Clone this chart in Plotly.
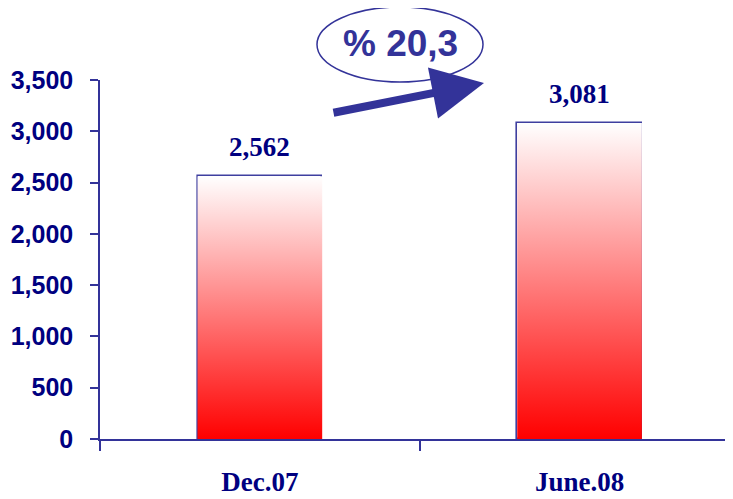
import plotly.graph_objects as go

categories = ["Dec.07", "June.08"]
values = [2562, 3081]
value_labels = ["2,562", "3,081"]
growth_label = "% 20,3"
y_ticks = [0, 500, 1000, 1500, 2000, 2500, 3000, 3500]
y_tick_labels = ["0", "500", "1,000", "1,500", "2,000", "2,500", "3,000", "3,500"]

# page body has an 8px default margin; size the figure so it ends at the window edge
OFF = 8
W, H = 733 - OFF, 499 - OFF
ML, MR, MT, MB = 100 - OFF, 0, 80 - OFF, 60
PW, PH = W - ML - MR, H - MT - MB
BAR_W = 0.39
NAVY = "#000080"
LINE = "#333399"

def px2paper_x(px):
    return (px - OFF - ML) / PW

def px2paper_y(py):
    return (H - MB - (py - OFF)) / PH

fig = go.Figure()
xs = list(range(len(categories)))

for i, v in zip(xs, values):
    fig.add_trace(go.Scatter(
        x=[i - BAR_W / 2, i + BAR_W / 2, i + BAR_W / 2, i - BAR_W / 2, i - BAR_W / 2],
        y=[0, 0, v, v, 0],
        mode="none", fill="toself",
        fillgradient=dict(type="vertical", colorscale=[[0, "#ff0000"], [1, "#ffffff"]]),
        hoverinfo="skip", showlegend=False,
    ))

fig.add_trace(go.Bar(
    x=xs, y=values, width=BAR_W,
    marker=dict(color="rgba(0,0,0,0)", line=dict(color="#3f3f9f", width=1.6)),
    showlegend=False,
))

for i, v, t in zip(xs, values, value_labels):
    fig.add_annotation(x=i, y=v, text=t, showarrow=False, yanchor="bottom", yshift=12,
                       font=dict(family="Liberation Serif", size=27, color=NAVY, weight="bold"))

fig.update_layout(
    width=W, height=H,
    margin=dict(l=ML, r=MR, t=MT, b=MB, autoexpand=False),
    paper_bgcolor="white", plot_bgcolor="white",
    bargap=0,
    xaxis=dict(
        range=[-0.5, 1.48], tickvals=xs, ticktext=categories, ticks="",
        showgrid=False, zeroline=False, showline=True, linecolor=LINE, linewidth=1.5,
        tickfont=dict(family="Liberation Serif", size=27, color=NAVY, weight="bold"),
        ticklabelstandoff=18, automargin=False,
        minor=dict(tickvals=[-0.5, 0.5], ticks="outside", ticklen=10, tickcolor=LINE, tickwidth=1.5),
    ),
    yaxis=dict(
        range=[0, 3500], tickvals=y_ticks, ticktext=y_tick_labels,
        ticks="outside", ticklen=8, tickcolor=LINE, tickwidth=1.5,
        showgrid=False, zeroline=False, showline=True, linecolor=LINE, linewidth=1.5,
        tickfont=dict(family="Liberation Sans", size=25, color=NAVY, weight="bold"),
        ticklabelstandoff=12, automargin=False,
    ),
)

fig.add_shape(type="circle", xref="paper", yref="paper",
              x0=px2paper_x(317), x1=px2paper_x(483), y0=px2paper_y(82), y1=px2paper_y(7),
              line=dict(color=LINE, width=1.5), fillcolor="rgba(0,0,0,0)")
fig.add_annotation(xref="paper", yref="paper", x=px2paper_x(400), y=px2paper_y(44),
                   xanchor="center", yanchor="middle",
                   text=growth_label, showarrow=False,
                   font=dict(family="Liberation Sans", size=37, color=LINE, weight="bold"))
fig.add_annotation(xref="paper", yref="paper", x=px2paper_x(484), y=px2paper_y(83),
                   ax=332 - 484, ay=113 - 83, text="", showarrow=True,
                   arrowhead=2, arrowwidth=8, arrowsize=1.3, arrowcolor=LINE, standoff=0)

fig.write_html("out.html")
